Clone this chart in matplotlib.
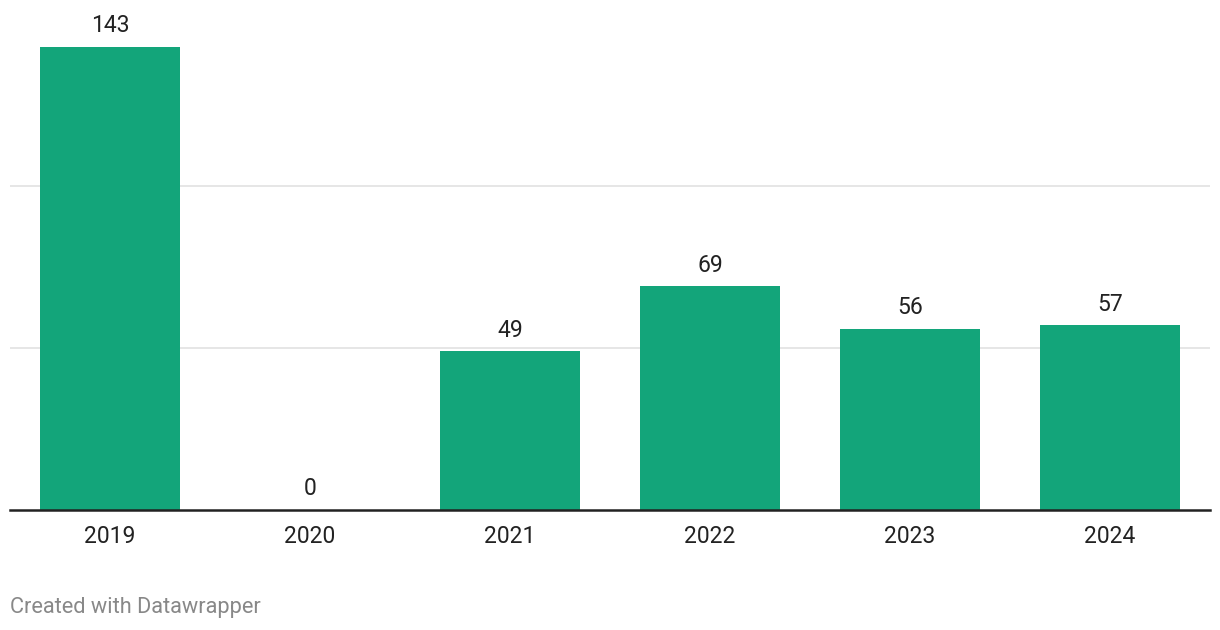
import matplotlib
matplotlib.use("Agg")
import matplotlib.pyplot as plt
import numpy as np

years = ["2019", "2020", "2021", "2022", "2023", "2024"]
values = [143, 0, 49, 69, 56, 57]

plt.rcParams["font.family"] = ["Roboto", "DejaVu Sans"]

fig = plt.figure(figsize=(12.2, 6.3), dpi=100)
ax = fig.add_axes([10 / 1220, 1 - 510 / 630, 1200 / 1220, 510 / 630])

x = np.arange(len(years))
ax.bar(x, values, width=0.7, color="#13a57a", zorder=2)

for xi, v in zip(x, values):
    ax.annotate(str(v), (xi, v), xytext=(0, 7), textcoords="offset points",
                ha="center", va="bottom", fontsize=16.5, color="#222222")

ax.set_xlim(-0.5, len(years) - 0.5)
ax.set_ylim(0, 510 / 3.24)
ax.set_yticks([50, 100])
ax.yaxis.grid(True, color="#e2e2e2", linewidth=1.2, zorder=0)
ax.tick_params(axis="y", length=0, labelleft=False)
ax.set_xticks(x)
ax.set_xticklabels(years, fontsize=16.5, color="#222222")
ax.tick_params(axis="x", length=0, pad=11)

for side in ["top", "right", "left"]:
    ax.spines[side].set_visible(False)
ax.spines["bottom"].set_color("#222222")
ax.spines["bottom"].set_linewidth(1.8)
ax.spines["bottom"].set_zorder(3)

fig.text(10 / 1220, 1 - 608 / 630, "Created with Datawrapper", fontsize=15.7,
         color="#888888", ha="left", va="center")

fig.savefig("out.png", dpi=100)
